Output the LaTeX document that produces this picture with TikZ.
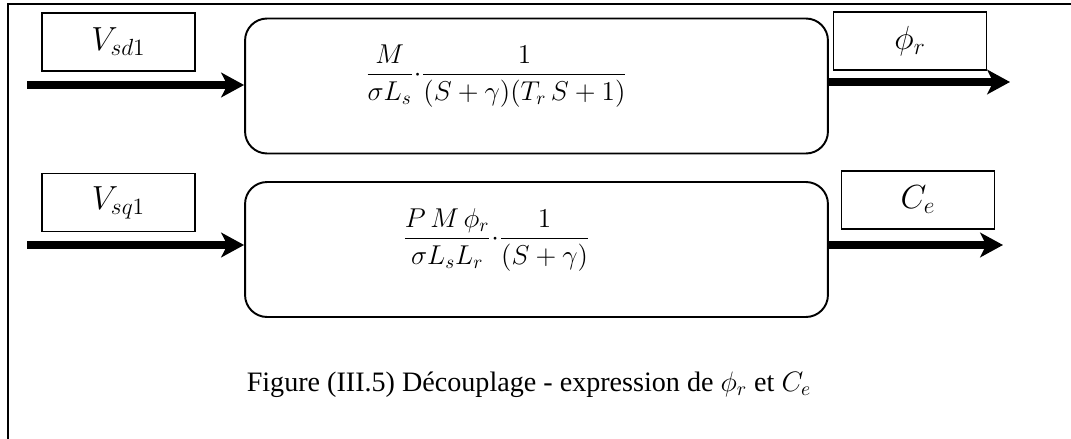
\RequirePackage{fix-cm}
\documentclass[tikz,border=0pt]{standalone}
\usepackage{amsmath}
\usepackage{fontspec}
\setmainfont{Liberation Serif}
\usetikzlibrary{arrows.meta, positioning}

\begin{document}
\begin{tikzpicture}[x=0.02cm, y=-0.02cm,
    sigbox/.style={rectangle, draw, line width=0.9pt, minimum width=3.06cm, minimum height=1.16cm,
                   font=\fontsize{19}{22}\selectfont},
    block/.style={rectangle, draw, line width=1.1pt, rounded corners=0.44cm,
                  minimum width=11.66cm, minimum height=2.7cm},
    formula/.style={font=\fontsize{15.5}{18}\selectfont},
    sig/.style={line width=4.5pt, -{Stealth[length=13pt, width=14pt, inset=3.5pt]}}
]
    \useasboundingbox (0,0) rectangle (1071,439);
    % frame (only top and left edges are inside the page)
    \draw[line width=1.2pt] (8,450) -- (8,4) -- (1080,4);

    % input / output labels
    \node[sigbox] (vsd)  at (118.5, 42)  {$V_{sd1}$};
    \node[sigbox] (vsq)  at (118.5, 202.5) {$V_{sq1}$};
    \node[sigbox] (phir) at (910, 41)   {$\phi_r$};
    \node[sigbox] (ce)   at (918, 200)  {$C_e$};

    % transfer blocks
    \node[block] (blkd) at (536.5, 86)  {};
    \node[block] (blkq) at (536.5, 249.5) {};
    \node[formula] (fd) at ([xshift=-0.8cm, yshift=0.2cm]blkd.center)
        {$\dfrac{M}{\sigma L_s}{\cdot}\dfrac{1}{(S+\gamma)(T_r\,S+1)}$};
    \node[formula] (fq) at ([xshift=-0.8cm, yshift=0.2cm]blkq.center)
        {$\dfrac{P\,M\,\phi_r}{\sigma L_s L_r}{\cdot}\dfrac{1}{(S+\gamma)}$};

    % signals
    \coordinate (ind) at (27, 85);
    \coordinate (inq) at (27, 245);
    \coordinate (outd) at (1010, 82);
    \coordinate (outq) at (1003, 245);
    \draw[sig] (ind) -- (ind -| blkd.west);
    \draw[sig] (inq) -- (inq -| blkq.west);
    \draw[sig] (outd -| blkd.east) -- (outd);
    \draw[sig] (outq -| blkq.east) -- (outq);

    % caption
    \node[font=\fontsize{16}{19}\selectfont] (cap) at (529, 385)
        {Figure (III.5) Découplage - expression de $\phi_r$ et $C_e$};
\end{tikzpicture}
\end{document}
